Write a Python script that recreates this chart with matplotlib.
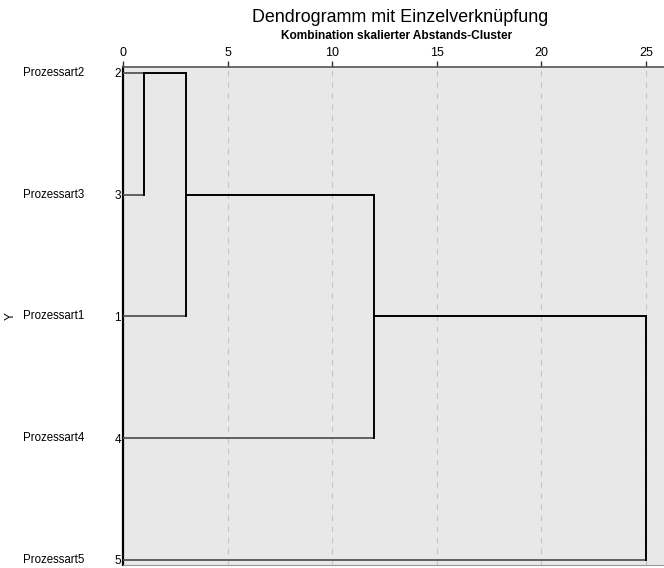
import numpy as np
import matplotlib.pyplot as plt
from matplotlib import transforms

plt.rcParams['font.family'] = ['Liberation Sans', 'DejaVu Sans']

# leaves in display order (top to bottom) and their case numbers
leaf_names = ['Prozessart2', 'Prozessart3', 'Prozessart1', 'Prozessart4', 'Prozessart5']
leaf_ids = ['2', '3', '1', '4', '5']

# rescaled merge distances (0-25), SPSS style
merge_rows = [(0, 1), (0, 2), (1, 3), (2, 4)]   # rows joined by each vertical line
merge_dist = [1, 3, 12, 25]
leaf_end = [1, 1, 3, 12, 25]                     # leaf line lengths
link_rows = [0, 1, 2]                            # rows of the cluster lines between merges

fig = plt.figure(figsize=(6.64, 5.68), dpi=100)
ax = fig.add_axes([123 / 664, 3 / 568, 541 / 664, 498 / 568])
ax.set_facecolor('#e8e8e8')

# leaf lines
for row, end in enumerate(leaf_end):
    ax.plot([0, end], [row, row], color='#555555', lw=1.3, solid_capstyle='butt', zorder=3)

# vertical merge lines
for (r0, r1), d in zip(merge_rows, merge_dist):
    ax.plot([d, d], [r0, r1], color='black', lw=1.4, zorder=4)
# horizontal links carrying a cluster to the next merge
for row, x0, x1 in zip(link_rows, merge_dist[:-1], merge_dist[1:]):
    ax.plot([x0, x1], [row, row], color='black', lw=1.4, zorder=4)

ax.set_xlim(0, 541 / (523 / 25))
ax.set_ylim(4 + 5 / 121.75, -6 / 121.75)

ax.xaxis.tick_top()
ax.set_xticks([0, 5, 10, 15, 20, 25])
ax.tick_params(axis='x', direction='out', length=4, width=1, color='#333333',
               labelsize=9, pad=2)
for x in [5, 10, 15, 20, 25]:
    ax.axvline(x, color='#c4c4c4', lw=0.8, ls=(0, (5, 5)), zorder=1)

ax.set_yticks(range(len(leaf_ids)))
ax.set_yticklabels(leaf_ids, fontsize=8.5)
ax.tick_params(axis='y', length=0, pad=1.5)

ax.spines['right'].set_visible(False)
ax.spines['left'].set_linewidth(1.6)
ax.spines['left'].set_color('black')
ax.spines['top'].set_color('#555555')
ax.spines['top'].set_linewidth(1.2)
ax.spines['bottom'].set_color('#999999')

trans = transforms.blended_transform_factory(fig.transFigure, ax.transData)
for row, name in enumerate(leaf_names):
    ax.text(23 / 664, row, name, transform=trans, ha='left', va='center', fontsize=8.3)
ax.text(11 / 664, 2, 'Y', transform=trans, ha='center', va='center', fontsize=8.5, rotation=90)

fig.text(400 / 664, 1 - 18 / 568, 'Dendrogramm mit Einzelverknüpfung', ha='center', va='center',
         fontsize=12.9)
fig.text(397 / 664, 1 - 36 / 568, 'Kombination skalierter Abstands-Cluster', ha='center', va='center',
         fontsize=8.6, fontweight='bold')

fig.savefig('out.png', dpi=100)
